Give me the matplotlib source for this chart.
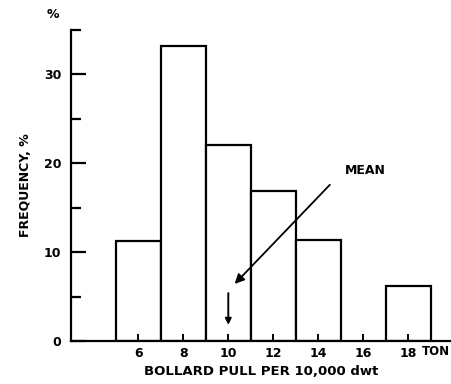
import numpy as np
import matplotlib
matplotlib.use("Agg")
import matplotlib.pyplot as plt

# bollard pull classes (ton per 10,000 dwt) and frequency in %
bin_left = [5, 7, 9, 11, 13, 17]
freq = [11.2, 33.2, 22.1, 16.9, 11.4, 6.2]
bin_width = 2
x_ticks = [6, 8, 10, 12, 14, 16, 18]
y_ticks = [0, 10, 20, 30]
mean_value = 10.0

plt.rcParams['font.family'] = 'DejaVu Sans'
plt.rcParams['font.weight'] = 'bold'

fig = plt.figure(figsize=(4.51, 3.84), dpi=100)
ax = fig.add_axes([0.157, 0.112, 0.843, 0.81])

ax.bar(bin_left, freq, width=bin_width, align='edge', facecolor='white',
       edgecolor='black', linewidth=1.6)

ax.set_xlim(3, 19.9)
ax.set_ylim(0, 35)
ax.spines['top'].set_visible(False)
ax.spines['right'].set_visible(False)
ax.spines['left'].set_linewidth(1.6)
ax.spines['bottom'].set_linewidth(1.6)

ax.set_xticks(x_ticks)
ax.set_yticks(y_ticks)
ax.set_yticks([5, 15, 25, 35], minor=True)
ax.tick_params(axis='y', which='major', direction='in', length=11, width=1.6,
               labelsize=9, pad=7)
ax.tick_params(axis='y', which='minor', direction='in', length=7, width=1.6)
ax.tick_params(axis='x', direction='in', length=5, width=1.4, labelsize=9, pad=4)

ax.set_xlabel('BOLLARD PULL PER 10,000 dwt', fontsize=9.5, fontweight='bold', labelpad=4)
ax.set_ylabel('FREQUENCY, %', fontsize=9, fontweight='bold', labelpad=8)

ax.text(18.6, -0.5, 'TON', fontsize=8.5, fontweight='bold', va='top', ha='left')
ax.text(-0.03, 1.03, '%', transform=ax.transAxes, fontsize=9, fontweight='bold',
        ha='right', va='bottom')

# mean marker
ax.annotate('', xy=(mean_value, 1.5), xytext=(mean_value, 5.7),
            arrowprops=dict(arrowstyle='-|>', color='black', lw=1.4,
                            mutation_scale=9))
ax.annotate('', xy=(10.2, 6.2), xytext=(14.6, 17.8),
            arrowprops=dict(arrowstyle='-|>', color='black', lw=1.3,
                            mutation_scale=14))
ax.text(16.1, 19.2, 'MEAN', fontsize=9, fontweight='bold', ha='center', va='center')

fig.savefig('out.png', dpi=100)
